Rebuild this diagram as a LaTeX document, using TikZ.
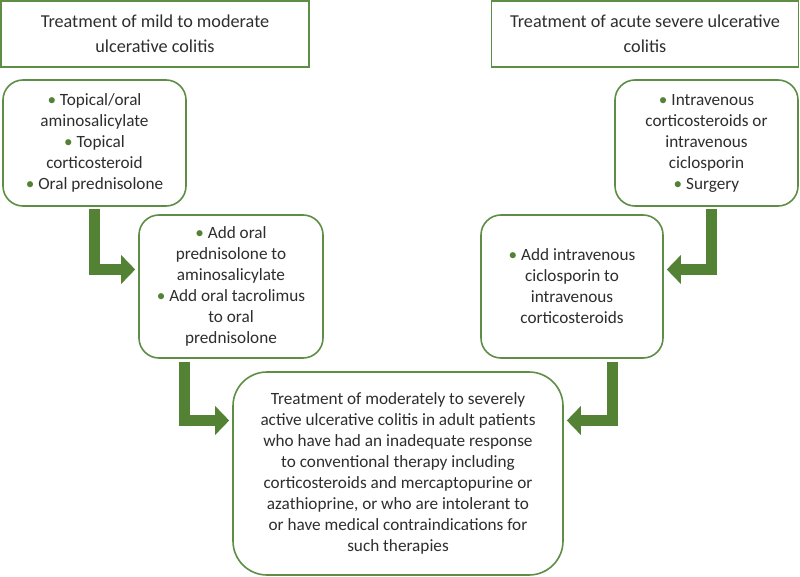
\documentclass[tikz,border=0pt]{standalone}
\usepackage{fontspec}
\setmainfont{Carlito}
\usetikzlibrary{arrows.meta}
\definecolor{gr}{HTML}{548235}
\definecolor{bordergr}{HTML}{5E8E45}
\definecolor{txt}{HTML}{2E2E2E}
\newcommand\gbul{{\color{gr}•}\ }
\begin{document}
\begin{tikzpicture}[x=1pt,y=-1pt,
  every node/.style={text=txt, align=center, font=\fontsize{17.2}{21}\selectfont, inner sep=0pt},
  headbox/.style={draw=bordergr, line width=1.6pt, rectangle, font=\fontsize{18.2}{24.5}\selectfont},
  rbox/.style={draw=bordergr, line width=1.6pt, rounded corners=20pt, fill=white},
  bigbox/.style={draw=bordergr, line width=1.6pt, rounded corners=34pt, fill=white},
  flow/.style={draw=gr, line width=11pt, -{Triangle[width=28pt,length=14pt]}, shorten >=3pt}
]
\useasboundingbox (0,0) rectangle (800,577);
\fill[white] (0,0) rectangle (800,577);

\node[headbox, minimum width=308pt, minimum height=66pt] (h1) at (155,34) {Treatment of mild to moderate\\ulcerative colitis};
\node[headbox, minimum width=307pt, minimum height=66pt] (h2) at (645,34) {Treatment of acute severe ulcerative\\colitis};

\node[rbox, minimum width=183pt, minimum height=126pt] (a) at (94.5,143) {\gbul Topical/oral\\aminosalicylate\\\gbul Topical\\corticosteroid\\\gbul Oral prednisolone};
\node[rbox, minimum width=184pt, minimum height=143pt] (b) at (231,286.5) {\gbul Add oral\\prednisolone to\\aminosalicylate\\\gbul Add oral tacrolimus\\to oral\\prednisolone};

\node[rbox, minimum width=183pt, minimum height=126pt] (c) at (706.5,143) {\gbul Intravenous\\corticosteroids or\\intravenous\\ciclosporin\\\gbul Surgery};
\node[rbox, minimum width=182pt, minimum height=143pt] (d) at (572,286.5) {\gbul Add intravenous\\ciclosporin to\\intravenous\\corticosteroids};

\node[bigbox, minimum width=330pt, minimum height=203pt] (e) at (398,473.5) {Treatment of moderately to severely\\active ulcerative colitis in adult patients\\who have had an inadequate response\\to conventional therapy including\\corticosteroids and mercaptopurine or\\azathioprine, or who are intolerant to\\or have medical contraindications for\\such therapies};

\draw[flow] ([yshift=-2pt]a.south) |- ([yshift=17pt]b.west);
\draw[flow] ([xshift=-47pt,yshift=-3pt]b.south) |- ([yshift=53pt]e.west);
\draw[flow] ([xshift=5pt,yshift=-2pt]c.south) |- ([yshift=17pt]d.east);
\draw[flow] ([xshift=40pt,yshift=-3pt]d.south) |- ([yshift=53pt]e.east);
\end{tikzpicture}
\end{document}
